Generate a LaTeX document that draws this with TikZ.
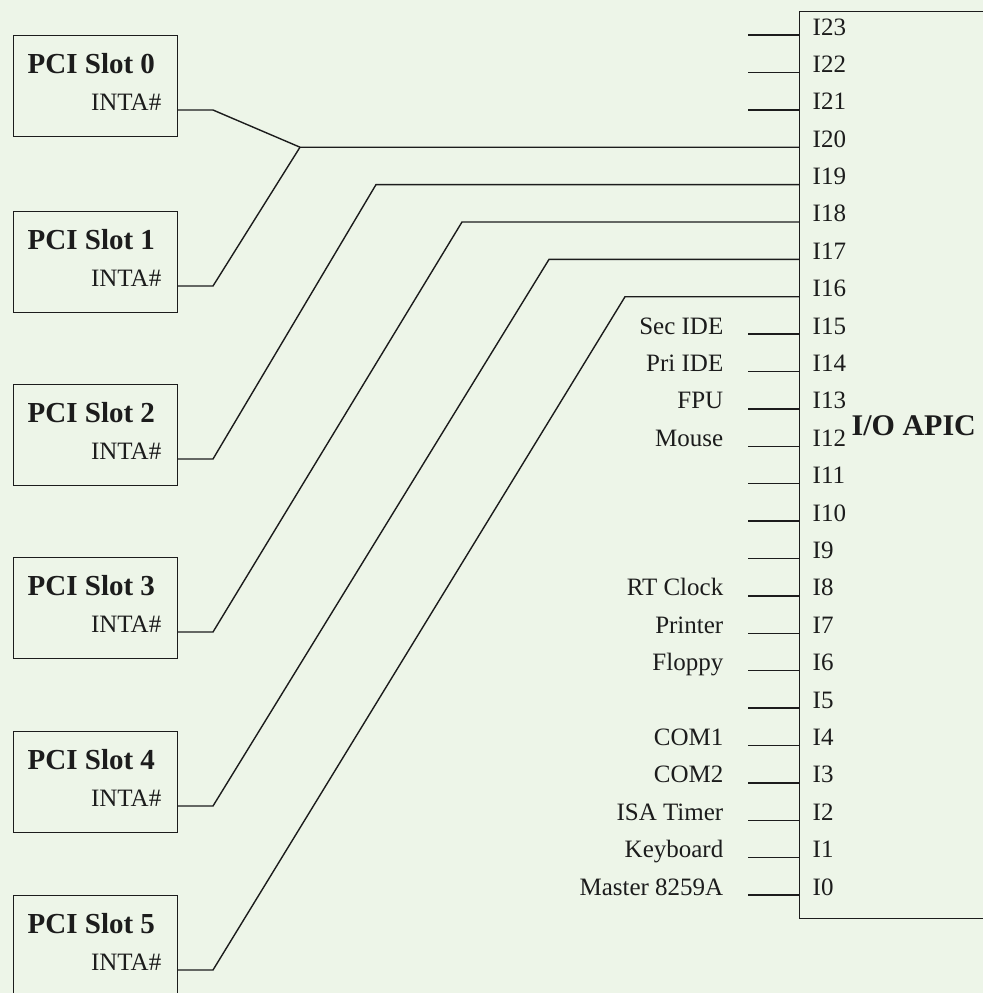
\documentclass[tikz,border=0pt]{standalone}
\usepackage{fontspec}
\setmainfont{Liberation Serif}
\definecolor{paper}{RGB}{237,245,232}
\definecolor{ink}{RGB}{28,28,28}

\begin{document}
\begin{tikzpicture}[x=0.5pt,y=-0.5pt,line width=0.7pt,color=ink,
  slot node/.style={draw,rectangle,anchor=north west,minimum width=82pt,minimum height=50.5pt,inner sep=0pt},
  chip node/.style={draw,rectangle,anchor=north west,minimum width=110pt,minimum height=453.5pt,inner sep=0pt},
  title node/.style={anchor=base west,inner sep=0pt,font=\fontsize{14.5}{17}\selectfont\bfseries},
  pin node/.style={anchor=base west,inner sep=0pt,font=\fontsize{12.5}{15}\selectfont},
  src node/.style={anchor=base east,inner sep=0pt,font=\fontsize{12.5}{15}\selectfont}]
  \fill[paper] (0,0) rectangle (983,993);
  \useasboundingbox (0,0) rectangle (983,993);
  \clip (0,0) rectangle (983,993);

  % PCI slots
  \foreach \ytop [count=\k from 0] in {35,211,384,557,731,895} {
    \node[slot node] (slot\k) at (13,\ytop) {};
    \node[title node] (title\k) at (27,\ytop+38) {PCI Slot \k};
    \node[src node] (inta\k) at (162,\ytop+75) {INTA\#};
    \coordinate (int\k) at (177,\ytop+75);
    \coordinate (stub\k) at (213,\ytop+75);
  }

  % I/O APIC and its inputs
  \node[chip node] (apic) at (799,11) {};
  \node[anchor=base west,inner sep=0pt,font=\fontsize{15}{18}\selectfont\bfseries] (apiclabel) at (851,435) {I/O APIC};
  \foreach \i in {0,...,23} {
    \coordinate (pin\i) at (799,{895-37.39*\i});
    \coordinate (lead\i) at (748,{895-37.39*\i});
    \node[pin node] (label\i) at (812,{895-37.39*\i}) {I\i};
  }
  \foreach \i in {0,...,15,21,22,23}
    \draw (lead\i) -- (pin\i);

  \foreach \i/\name in {15/Sec IDE,14/Pri IDE,13/FPU,12/Mouse,8/RT Clock,7/Printer,
      6/Floppy,4/COM1,3/COM2,2/ISA Timer,1/Keyboard,0/Master 8259A}
    \node[src node] (dev\i) at (724,{895-37.39*\i}) {\name};

  % slot interrupt lines
  \coordinate (join) at (300,{895-37.39*20});
  \draw (int0) -- (stub0) -- (join) -- (pin20);
  \draw (int1) -- (stub1) -- (join);
  \foreach \k/\p/\bx in {2/19/376,3/18/462,4/17/549,5/16/625} {
    \coordinate (bend\k) at (\bx,{895-37.39*\p});
    \draw (int\k) -- (stub\k) -- (bend\k) -- (pin\p);
  }
\end{tikzpicture}
\end{document}
